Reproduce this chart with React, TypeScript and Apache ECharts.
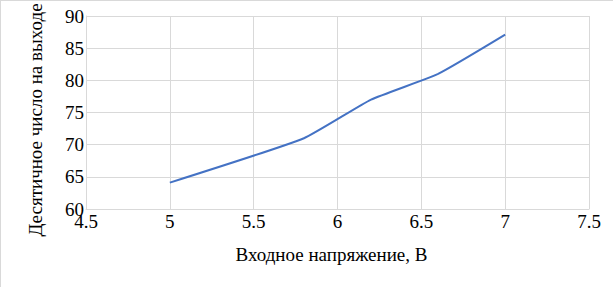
import React, { useEffect, useRef } from "react";
import * as echarts from "echarts";

const voltage = [5, 5.8, 6.2, 6.6, 7];
const decimalOut = [64.1, 71, 77, 81, 87.1];
const xAxisTitle = "Входное напряжение, В";
const yAxisTitle = "Десятичное число на выходе";

export default function App() {
  const ref = useRef<HTMLDivElement>(null);
  useEffect(() => {
    if (!ref.current) return;
    const chart = echarts.init(ref.current, undefined, { renderer: "svg" });
    const font = "Liberation Serif";
    const tick = { fontFamily: font, fontSize: 19, color: "#000" };
    chart.setOption({
      animation: false,
      backgroundColor: "#ffffff",
      textStyle: { fontFamily: font },
      graphic: [
        { type: "line", shape: { x1: 0.5, y1: 0, x2: 0.5, y2: 287 }, style: { stroke: "#d9d9d9", lineWidth: 1 } },
        { type: "line", shape: { x1: 0, y1: 0.5, x2: 613, y2: 0.5 }, style: { stroke: "#d9d9d9", lineWidth: 1 } },
        {
          type: "text",
          x: 35,
          y: 120,
          rotation: Math.PI / 2,
          style: {
            text: yAxisTitle,
            fontFamily: font,
            fontSize: 19,
            fill: "#000",
            align: "center",
            verticalAlign: "middle",
          },
        },
      ],
      grid: { left: 86, right: 24, top: 16, bottom: 78, outerBoundsMode: "none", containLabel: false },
      xAxis: {
        type: "value",
        min: 4.5,
        max: 7.5,
        interval: 0.5,
        name: xAxisTitle,
        nameLocation: "middle",
        nameGap: 36,
        nameTextStyle: { fontFamily: font, fontSize: 19, color: "#000", padding: [0, 12, 0, 0] },
        axisLine: { lineStyle: { color: "#d9d9d9", width: 1 } },
        axisTick: { show: false },
        axisLabel: { ...tick, margin: 3, hideOverlap: false },
        splitLine: { show: true, lineStyle: { color: "#d9d9d9", width: 1 } },
      },
      yAxis: {
        type: "value",
        min: 60,
        max: 90,
        interval: 5,
        axisLine: { show: true, lineStyle: { color: "#d9d9d9", width: 1 } },
        axisTick: { show: false },
        axisLabel: { ...tick, margin: 2, hideOverlap: false },
        splitLine: { show: true, lineStyle: { color: "#d9d9d9", width: 1 } },
      },
      series: [
        {
          type: "line",
          data: voltage.map((v, i) => [v, decimalOut[i]]),
          smooth: 0.15,
          showSymbol: false,
          lineStyle: { color: "#4472c4", width: 2 },
        },
      ],
    });
    return () => chart.dispose();
  }, []);
  return (
    <div
      ref={ref}
      style={{ position: "fixed", left: 0, top: 0, width: 613, height: 287 }}
    />
  );
}
